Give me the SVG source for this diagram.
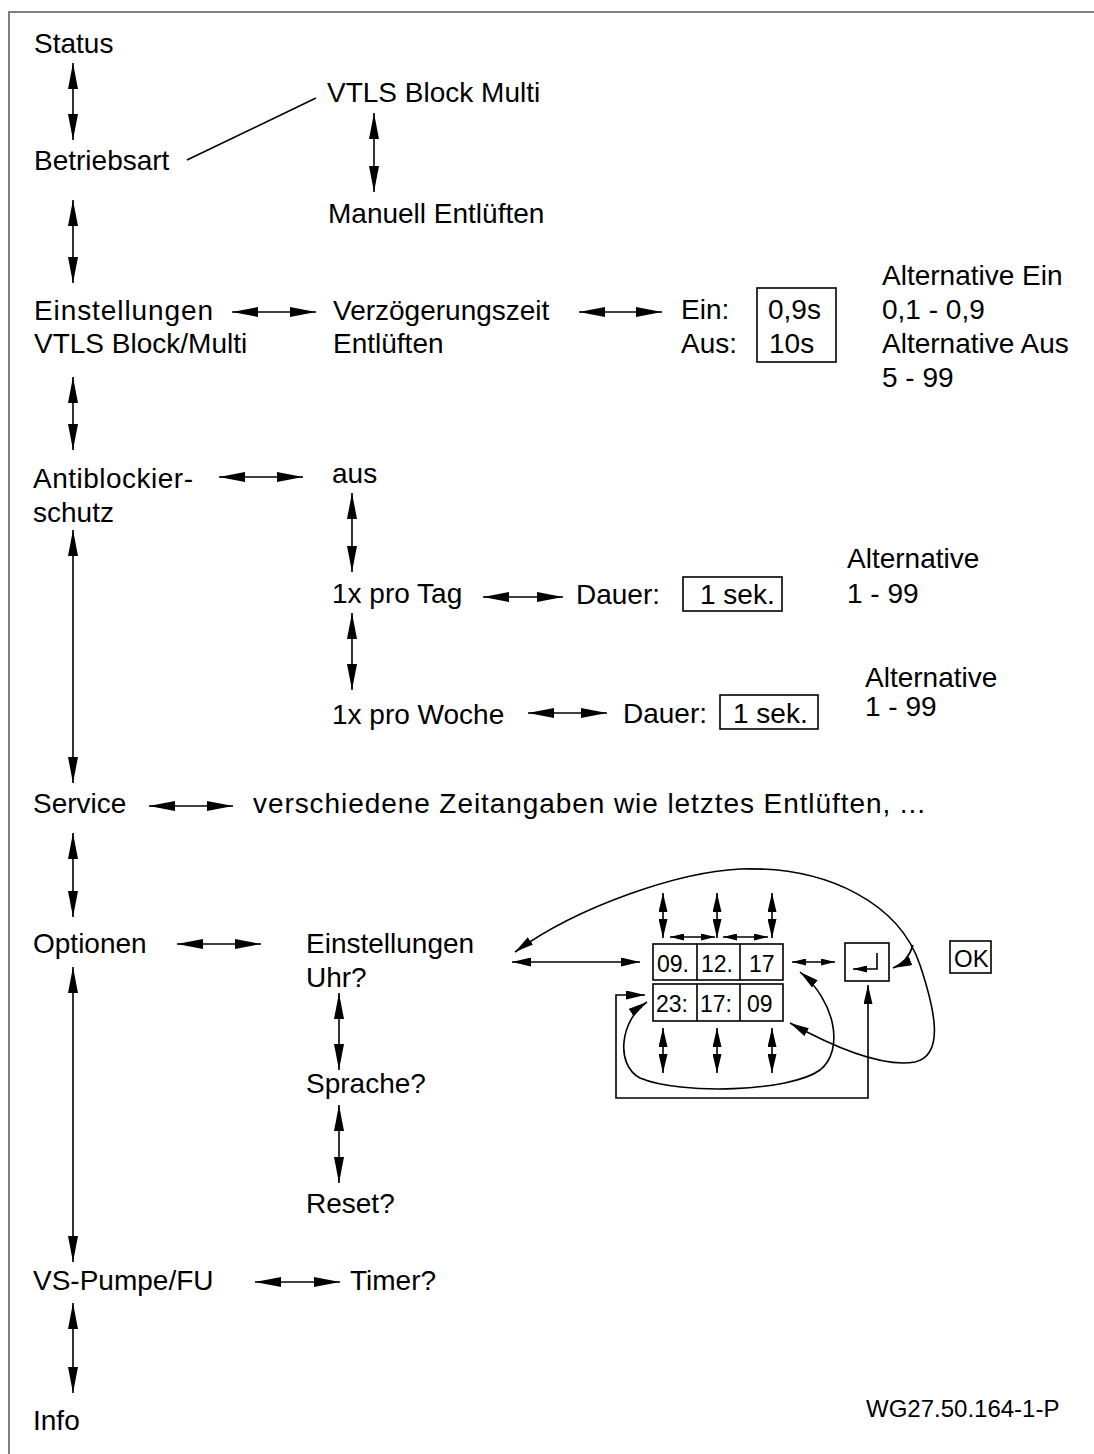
<svg xmlns="http://www.w3.org/2000/svg" width="1094" height="1454" viewBox="0 0 1094 1454">
<style>
text{font-family:"Liberation Sans",Arial,sans-serif;font-size:28px;fill:#000}
.sm{font-size:23px}
.ref{font-size:24px}
.c{fill:none;stroke:#000;stroke-width:1.6}
.da{marker-start:url(#a);marker-end:url(#a)}
.ds{marker-start:url(#s);marker-end:url(#s)}
.dt{marker-start:url(#t);marker-end:url(#t)}
.box{fill:none;stroke:#000;stroke-width:1.6}
</style>
<defs>
<marker id="a" markerUnits="userSpaceOnUse" markerWidth="26" markerHeight="10" refX="26" refY="5" orient="auto-start-reverse"><path d="M0,0 L26,5 L0,10 Z" fill="#000"/></marker>
<marker id="s" markerUnits="userSpaceOnUse" markerWidth="19" markerHeight="9" refX="19" refY="4.5" orient="auto-start-reverse"><path d="M0,0 L19,4.5 L0,9 Z" fill="#000"/></marker>
<marker id="t" markerUnits="userSpaceOnUse" markerWidth="14" markerHeight="7" refX="14" refY="3.5" orient="auto-start-reverse"><path d="M0,0 L14,3.5 L0,7 Z" fill="#000"/></marker>
</defs>
<rect width="1094" height="1454" fill="#fff"/>
<path d="M9,1454 V12 H1094" fill="none" stroke="#808080" stroke-width="2"/>

<g id="connectors">
<path class="c da" d="M73,63 V140"/>
<path class="c da" d="M73,200 V283"/>
<path class="c da" d="M73,377 V450"/>
<path class="c da" d="M73,530 V783"/>
<path class="c da" d="M73,833 V917"/>
<path class="c da" d="M73,967 V1262"/>
<path class="c da" d="M73,1303 V1393"/>
<path class="c" d="M187,160 L316,98"/>
<path class="c da" d="M374,113 V192"/>
<path class="c da" d="M232,312 H316"/>
<path class="c da" d="M579,312 H662"/>
<path class="c da" d="M219,477 H303"/>
<path class="c da" d="M352,493 V572"/>
<path class="c da" d="M352,613 V690"/>
<path class="c da" d="M483,597 H563"/>
<path class="c da" d="M528,713 H607"/>
<path class="c da" d="M149,806 H233"/>
<path class="c da" d="M177,944 H261"/>
<path class="c da" d="M339,993 V1070"/>
<path class="c da" d="M339,1105 V1183"/>
<path class="c da" d="M255,1282 H340"/>
<!-- clock connectors -->
<path class="c ds" d="M512,962 H640"/>
<path class="c ds" d="M663,893 V938"/>
<path class="c ds" d="M717,893 V938"/>
<path class="c ds" d="M772,893 V938"/>
<path class="c dt" d="M670,937 H715"/>
<path class="c dt" d="M723,937 H768"/>
<path class="c ds" d="M663,1028 V1073"/>
<path class="c ds" d="M717,1028 V1073"/>
<path class="c ds" d="M772,1028 V1073"/>
<path class="c dt" d="M792,962 H835"/>
<path class="c ds" d="M515,952 C580,905 680,872 740,869 C830,866 900,905 920,965 C935,1010 945,1055 915,1062 C880,1068 830,1045 790,1023"/>
<path class="c" style="marker-end:url(#s)" d="M913,945 Q908,962 893,968"/>
<path class="c ds" d="M800,972 C835,1000 845,1050 820,1070 C790,1092 680,1095 640,1078 C615,1065 620,1020 647,1002"/>
<path class="c ds" d="M868,985 V1098 H616 V995 H645"/>
</g>

<g id="n-status"><text x="34" y="53">Status</text></g>
<g id="n-betriebsart"><text x="34" y="170">Betriebsart</text></g>
<g id="n-vtls"><text x="327" y="102">VTLS Block Multi</text></g>
<g id="n-manuell"><text x="328" y="223">Manuell Entlüften</text></g>
<g id="n-einst-vtls"><text x="34" y="320" textLength="179">Einstellungen</text><text x="34" y="353">VTLS Block/Multi</text></g>
<g id="n-verz"><text x="333" y="320">Verzögerungszeit</text><text x="333" y="353">Entlüften</text></g>
<g id="n-einaus"><text x="681" y="319">Ein:</text><text x="681" y="353">Aus:</text>
<rect class="box" x="757" y="288" width="79" height="74"/>
<text x="768" y="319">0,9s</text><text x="769" y="353">10s</text></g>
<g id="n-alt1"><text x="882" y="285">Alternative Ein</text><text x="882" y="319">0,1 - 0,9</text><text x="882" y="353">Alternative Aus</text><text x="882" y="387">5 - 99</text></g>
<g id="n-anti"><text x="33" y="488" textLength="160">Antiblockier-</text><text x="33" y="522">schutz</text></g>
<g id="n-aus"><text x="332" y="483">aus</text></g>
<g id="n-tag"><text x="332" y="603">1x pro Tag</text></g>
<g id="n-dauer1"><text x="576" y="604">Dauer:</text><rect class="box" x="683" y="577" width="99" height="34"/><text x="700" y="604">1 sek.</text></g>
<g id="n-alt2"><text x="847" y="568">Alternative</text><text x="847" y="603">1 - 99</text></g>
<g id="n-woche"><text x="332" y="724">1x pro Woche</text></g>
<g id="n-dauer2"><text x="623" y="723">Dauer:</text><rect class="box" x="720" y="695" width="98" height="34"/><text x="733" y="723">1 sek.</text></g>
<g id="n-alt3"><text x="865" y="687">Alternative</text><text x="865" y="716">1 - 99</text></g>
<g id="n-service"><text x="33" y="813">Service</text></g>
<g id="n-zeit"><text x="253" y="813" textLength="672">verschiedene Zeitangaben wie letztes Entlüften, ...</text></g>
<g id="n-optionen"><text x="33" y="953">Optionen</text></g>
<g id="n-uhr"><text x="306" y="953">Einstellungen</text><text x="306" y="987">Uhr?</text></g>
<g id="n-sprache"><text x="306" y="1093">Sprache?</text></g>
<g id="n-reset"><text x="306" y="1213">Reset?</text></g>
<g id="n-clock">
<rect class="box" x="653" y="944" width="130" height="36"/>
<path class="c" d="M697,944 V980 M740,944 V980"/>
<rect class="box" x="653" y="984" width="130" height="37"/>
<path class="c" d="M697,984 V1021 M740,984 V1021"/>
<text class="sm" x="657" y="972">09.</text>
<text class="sm" x="701" y="972">12.</text>
<text class="sm" x="749" y="972">17</text>
<text class="sm" x="656" y="1012">23:</text>
<text class="sm" x="700" y="1012">17:</text>
<text class="sm" x="747" y="1012">09</text>
</g>
<g id="n-enter"><rect class="box" x="845" y="943" width="44" height="38"/>
<path class="c" style="marker-end:url(#t)" d="M877,953 V969 H853"/></g>
<g id="n-ok"><rect class="box" x="950" y="941" width="41" height="32"/><text class="ref" x="954" y="967">OK</text></g>
<g id="n-vspumpe"><text x="33" y="1290">VS-Pumpe/FU</text></g>
<g id="n-timer"><text x="350" y="1290">Timer?</text></g>
<g id="n-info"><text x="33" y="1430">Info</text></g>
<g id="n-ref"><text class="ref" x="866" y="1417">WG27.50.164-1-P</text></g>
</svg>
